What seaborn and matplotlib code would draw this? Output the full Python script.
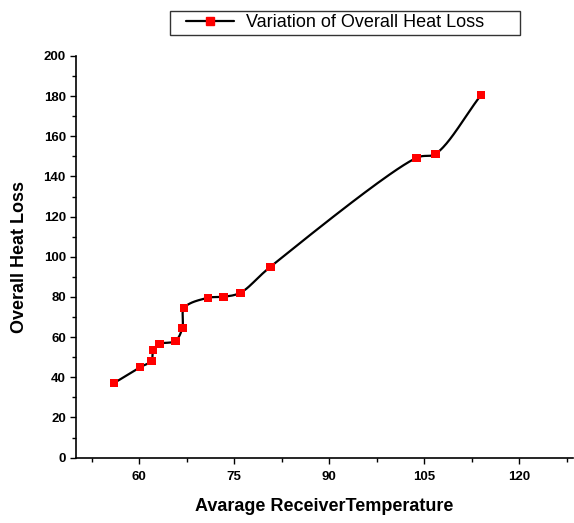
import numpy as np
import matplotlib
matplotlib.use("Agg")
import matplotlib.pyplot as plt
import seaborn as sns
from matplotlib.lines import Line2D
from matplotlib.legend_handler import HandlerLine2D
from matplotlib.ticker import MultipleLocator

temperature = [56.05, 60.16, 61.9, 62.2, 63.2, 65.7, 66.8, 67.1, 70.9, 73.3, 75.96, 80.7, 103.8, 106.8, 114.0]
heat_loss = [37.2, 45.1, 48.1, 53.6, 56.6, 58.1, 64.6, 74.6, 79.6, 80.1, 82.1, 95.0, 149.3, 151.3, 180.7]
x_ticks = [60, 75, 90, 105, 120]
y_ticks = [0, 20, 40, 60, 80, 100, 120, 140, 160, 180, 200]
series_label = "Variation of Overall Heat Loss"

sns.set_style("ticks")
plt.rcParams['font.family'] = ['Liberation Sans', 'DejaVu Sans']
plt.rcParams.update({'text.color': 'black', 'axes.labelcolor': 'black',
                     'xtick.color': 'black', 'ytick.color': 'black',
                     'axes.edgecolor': 'black'})

fig = plt.figure(figsize=(5.74, 5.23), dpi=100)
ax = fig.add_axes([76 / 574, 65.4 / 523, 497 / 574, 401.6 / 523])
ax.set_xlim(50, 128.5)
ax.set_ylim(0, 200)


def catmull_rom(pts, n=40, alpha=0.5):
    pts = np.asarray(pts, dtype=float)
    ext = np.vstack([2 * pts[0] - pts[1], pts, 2 * pts[-1] - pts[-2]])
    out = []
    for i in range(1, len(ext) - 2):
        p0, p1, p2, p3 = ext[i - 1], ext[i], ext[i + 1], ext[i + 2]
        t0 = 0.0
        t1 = t0 + np.linalg.norm(p1 - p0) ** alpha + 1e-9
        t2 = t1 + np.linalg.norm(p2 - p1) ** alpha + 1e-9
        t3 = t2 + np.linalg.norm(p3 - p2) ** alpha + 1e-9
        t = np.linspace(t1, t2, n)[:, None]
        a1 = (t1 - t) / (t1 - t0) * p0 + (t - t0) / (t1 - t0) * p1
        a2 = (t2 - t) / (t2 - t1) * p1 + (t - t1) / (t2 - t1) * p2
        a3 = (t3 - t) / (t3 - t2) * p2 + (t - t2) / (t3 - t2) * p3
        b1 = (t2 - t) / (t2 - t0) * a1 + (t - t0) / (t2 - t0) * a2
        b2 = (t3 - t) / (t3 - t1) * a2 + (t - t1) / (t3 - t1) * a3
        c = (t2 - t) / (t2 - t1) * b1 + (t - t1) / (t2 - t1) * b2
        out.append(c)
    return np.vstack(out)


disp = ax.transData.transform(np.column_stack([temperature, heat_loss]))
curve = ax.transData.inverted().transform(catmull_rom(disp))
ax.plot(curve[:, 0], curve[:, 1], color='black', lw=1.6, zorder=2)

sns.scatterplot(x=temperature, y=heat_loss, marker='s', color='#ff0000',
                s=36, edgecolor='none', ax=ax, zorder=3)

ax.set_xticks(x_ticks)
ax.set_yticks(y_ticks)
ax.xaxis.set_minor_locator(MultipleLocator(7.5))
ax.yaxis.set_minor_locator(MultipleLocator(10))
ax.tick_params(axis='both', which='major', direction='out', length=4.3, width=1,
               labelsize=9.5, color='black', labelcolor='black', pad=3)
ax.tick_params(axis='both', which='minor', direction='out', length=2.6, width=1, color='black')
ax.tick_params(axis='x', which='major', pad=5.3)
for lbl in ax.get_xticklabels() + ax.get_yticklabels():
    lbl.set_fontweight('bold')

sns.despine(ax=ax)
for s in ['left', 'bottom']:
    ax.spines[s].set_linewidth(1.2)
    ax.spines[s].set_color('black')

ax.set_xlabel("Avarage ReceiverTemperature", fontsize=13, fontweight='bold',
              labelpad=11, color='black')
ax.set_ylabel("Overall Heat Loss", fontsize=13, fontweight='bold', labelpad=11,
              color='black')

handle = Line2D([0], [0], color='black', lw=1.6, marker='s', markersize=6,
                markerfacecolor='#ff0000', markeredgecolor='#ff0000')
leg = fig.legend([handle], [series_label], loc='lower left',
                 bbox_to_anchor=(170 / 574, 1 - 35 / 523, 350 / 574, 26 / 523),
                 mode='expand', fontsize=13,
                 frameon=True, fancybox=False, edgecolor='black',
                 borderpad=0.2, handlelength=3.33, handletextpad=0.67,
                 borderaxespad=0,
                 handler_map={Line2D: HandlerLine2D(xpad=0.67)})
leg.get_frame().set_linewidth(1.0)
for t in leg.get_texts():
    t.set_color('black')

fig.savefig("out.png", dpi=100)
